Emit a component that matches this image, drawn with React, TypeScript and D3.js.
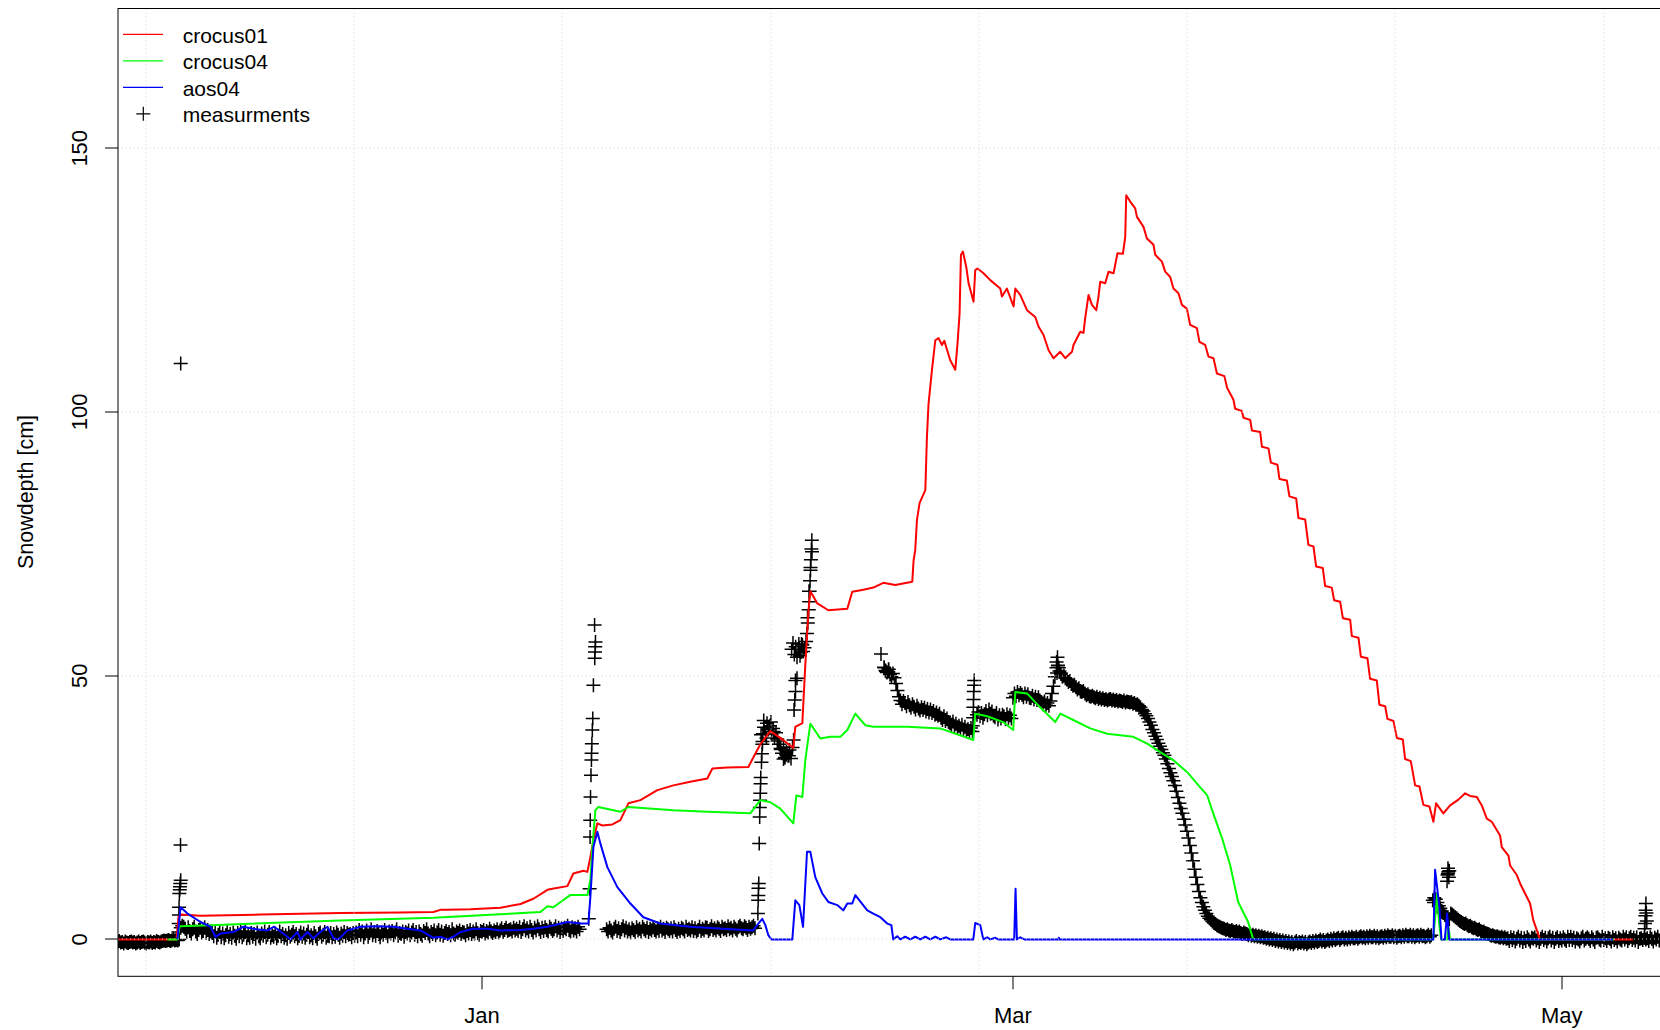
import * as d3 from "d3";
import { useMemo } from "react";

// time is given in days counted from 2017-01-01 00:00 UTC
const dayZero = Date.UTC(2017, 0, 1);

const crocus01: [number, number][] = [
  [-41, 0], [-33.97, 0], [-33.74, 4.3], [-33.52, 4.7], [-31.3, 4.5], [-24.63, 4.7],
  [-15.74, 5.0], [-9.08, 5.1], [-5.41, 5.2], [-4.63, 5.6], [-3.86, 5.6], [-1.3, 5.7],
  [2.03, 6.0], [4.26, 6.7], [5.7, 7.7], [7.26, 9.4], [7.81, 9.6], [9.48, 10.1],
  [10.14, 12.5], [11.26, 13.0], [11.7, 12.8], [12.03, 15.6], [12.37, 18.8], [12.81, 22.0],
  [13.37, 21.6], [14.48, 21.8], [15.37, 22.6], [16.26, 25.8], [17.59, 26.4], [19.48, 28.3],
  [21.26, 29.2], [23.14, 29.9], [25.03, 30.5], [25.59, 32.4], [27.26, 32.6], [29.59, 32.7],
  [30.92, 37.0], [32.03, 39.5], [33.14, 38.2], [34.59, 36.3], [34.81, 40.3], [35.59, 41.0],
  [35.92, 52], [36.26, 62], [36.48, 66], [37.26, 63.7], [38.48, 62.4], [40.59, 62.7],
  [41.14, 65.9], [42.37, 66.3], [43.48, 66.7], [44.59, 67.6], [45.92, 67.2], [47.81, 67.8],
  [47.96, 71.9], [48.14, 73.8], [48.33, 79.5], [48.62, 82.7], [49.26, 85.2], [49.44, 95.3],
  [49.62, 101.6], [50.0, 108], [50.37, 113.6], [50.73, 114], [51.11, 112.7], [51.37, 113.5],
  [52.03, 109.8], [52.59, 108], [52.84, 113], [53.07, 118.7], [53.22, 129.8], [53.44, 130.4],
  [53.81, 127.5], [54.07, 124.4], [54.62, 120.9], [54.81, 126.9], [55.07, 127.2], [55.73, 126.3],
  [56.48, 125], [57.59, 123.4], [57.78, 121.9], [58.33, 123.4], [59.07, 120], [59.26, 123.4],
  [59.81, 122.2], [60.56, 119.3], [61.48, 118], [61.84, 116.2], [62.4, 114.6], [62.96, 111.7],
  [63.51, 110.2], [64.26, 111.4], [64.81, 110.2], [65.56, 111.4], [65.73, 112.7], [66.48, 115.2],
  [66.84, 115], [67.03, 117.8], [67.4, 122.2], [67.78, 120.3], [68.26, 119.3], [68.51, 121.9],
  [68.7, 124.7], [69.26, 124.4], [69.62, 126.6], [70.18, 126.3], [70.62, 130.1], [71.22, 130],
  [71.48, 133.2], [71.59, 141.1], [72.03, 139.9], [72.59, 138.6], [72.78, 137], [73.51, 135.1],
  [73.89, 132.9], [74.62, 131.7], [74.81, 129.8], [75.56, 128.5], [75.92, 126.6], [76.48, 125.6],
  [76.84, 123.4], [77.4, 122.5], [77.78, 120.3], [78.33, 119.6], [78.7, 116.5], [79.44, 115.9],
  [79.73, 113.3], [80.37, 112.7], [80.73, 110.5], [81.29, 110.2], [81.67, 107.3], [82.5, 106.8],
  [82.8, 104.6], [83.51, 102.3], [83.7, 100.6], [84.44, 100.2], [84.62, 98.9], [85.37, 98.5],
  [85.56, 96.5], [86.48, 96.2], [86.67, 93.4], [87.4, 93.1], [87.67, 90.4], [88.4, 90.0],
  [88.62, 87.3], [89.44, 87.0], [89.73, 84.0], [90.48, 83.6], [90.73, 79.9], [91.48, 79.6],
  [91.84, 74.8], [92.4, 74.5], [92.7, 70.7], [93.44, 70.4], [93.7, 67.0], [94.44, 66.7],
  [94.7, 64.3], [95.37, 64.0], [95.67, 60.9], [96.48, 60.6], [96.67, 57.5], [97.4, 57.2],
  [97.67, 53.6], [98.4, 53.3], [98.7, 49.4], [99.44, 49.1], [99.73, 44.5], [100.37, 44.2],
  [100.62, 41.8], [101.29, 41.4], [101.67, 38.2], [102.33, 37.9], [102.59, 34.2], [103.22, 33.8],
  [103.7, 29.2], [104.18, 29.0], [104.62, 25.5], [105.29, 25.2], [105.73, 22.3], [106.03, 25.8],
  [106.84, 23.9], [107.59, 25.4], [108.51, 26.5], [109.26, 27.7], [109.81, 27.2], [110.56, 27.0],
  [111.11, 25.4], [111.67, 22.9], [112.22, 22.3], [113.14, 19.7], [113.33, 17.5], [114.07, 15.9],
  [114.26, 14.0], [115.0, 12.2], [115.37, 10.6], [115.92, 8.7], [116.48, 6.8], [116.84, 3.6],
  [117.59, 0], [127.9, 0]
];

const crocus04: [number, number][] = [
  [-34.97, 0], [-33.86, 0], [-33.63, 2.5], [-30.19, 2.7], [-15.74, 3.6], [-5.41, 4.1],
  [3.48, 4.9], [6.48, 5.2], [7.26, 6.3], [7.92, 6.1], [9.48, 8.0], [9.81, 8.4],
  [11.7, 8.4], [12.03, 11.2], [12.26, 17.5], [12.59, 24.5], [12.92, 25.1], [15.37, 24.2],
  [16.26, 25.1], [21.26, 24.5], [25.03, 24.2], [29.81, 23.9], [30.92, 26.4], [32.03, 26.0],
  [33.14, 24.8], [34.59, 22.0], [34.92, 27.3], [35.59, 27.0], [35.92, 34.0], [36.48, 40.9],
  [37.59, 38.1], [38.7, 38.4], [39.81, 38.4], [40.59, 39.7], [41.48, 42.8], [42.59, 40.6],
  [43.48, 40.3], [47.26, 40.3], [50.92, 40.0], [54.59, 37.8], [54.81, 42.8], [56.14, 42.3],
  [57.92, 41.2], [59.03, 39.7], [59.26, 46.9], [60.59, 46.6], [62.03, 44.0], [63.7, 41.2],
  [64.26, 42.8], [65.7, 41.6], [67.59, 40.0], [69.48, 39.0], [72.37, 38.4], [73.92, 37.1],
  [75.37, 35.5], [76.81, 34.0], [78.37, 31.7], [79.48, 29.5], [80.59, 27.3], [81.26, 23.9],
  [82.26, 19.1], [83.14, 14.1], [84.03, 7.1], [85.14, 3.3], [85.7, 0], [105.7, 0],
  [105.92, 4], [106.14, 8.7], [106.37, 3], [106.59, 0], [107.26, 0], [107.4, 2.4],
  [107.59, 0], [125.8, 0]
];

const aos04: [number, number][] = [
  [-33.86, 0], [-33.52, 6.1], [-32.74, 4.9], [-31.3, 3.3], [-30.19, 2.4], [-29.63, 0.5],
  [-29.08, 1.1], [-27.63, 1.4], [-26.52, 2.4], [-25.41, 2.0], [-23.86, 1.7], [-23.12, 2.4],
  [-21.63, 0.5], [-21.3, 0], [-20.52, 1.4], [-20.19, 0], [-19.41, 1.4], [-18.74, 0.2],
  [-17.97, 1.4], [-17.19, 2.4], [-16.52, 0.2], [-15.97, 0], [-14.97, 1.7], [-13.52, 2.4],
  [-11.63, 2.5], [-9.86, 2.4], [-8.3, 2.0], [-6.86, 1.7], [-5.41, 0.3], [-4.63, 0.5],
  [-3.86, 0], [-3.19, 0.5], [-2.41, 1.4], [-0.97, 2.0], [0.59, 2.0], [2.03, 1.7],
  [4.26, 1.8], [5.7, 2.0], [7.26, 2.4], [9.48, 3.3], [10.92, 3.0], [11.81, 3.0],
  [12.03, 8.0], [12.37, 17.5], [12.81, 20.4], [13.14, 18.2], [13.92, 13.7], [15.03, 9.9],
  [16.48, 6.8], [17.92, 4.2], [19.81, 3.0], [23.14, 2.4], [26.81, 2.0], [30.14, 1.7],
  [30.7, 3.0], [31.14, 3.9], [31.48, 2.7], [31.81, 0.8], [32.14, 0], [34.48, 0],
  [34.81, 7.4], [35.26, 6.5], [35.67, 2.4], [36.11, 16.6], [36.48, 16.6], [37.03, 11.8],
  [37.81, 8.7], [38.48, 7.1], [39.48, 6.5], [40.14, 5.5], [40.59, 6.8], [41.14, 6.8],
  [41.48, 8.4], [42.81, 5.5], [43.48, 4.9], [44.26, 4.2], [45.03, 3.0], [45.48, 2.7],
  [45.7, 0], [46.14, 0.6], [46.48, 0], [47.03, 0.5], [47.59, 0], [48.14, 0.5],
  [48.7, 0], [49.26, 0.5], [49.81, 0], [50.37, 0.5], [50.92, 0], [51.59, 0.4],
  [52.03, 0], [54.59, 0], [54.81, 3.1], [55.37, 2.7], [55.7, 0], [56.14, 0.4],
  [56.48, 0], [57.03, 0.3], [57.37, 0], [59.14, 0], [59.29, 9.6], [59.44, 0],
  [59.81, 0.4], [60.26, 0], [64.03, 0], [64.1, 0.3], [64.2, 0], [105.73, 0],
  [105.92, 13.2], [106.4, 6.1], [106.63, 0], [107.0, 0], [107.26, 4.9], [107.48, 0],
  [125.7, 0]
];

// snow depth readings, one row per day from day -41 on, every 4 hours (null = no reading)
const measStartDay = -41;
const measurements: (number | null)[][] = [
  [-0.6, -0.4, -0.7, -0.5, -0.3, -0.6],
  [-0.5, -0.8, -0.4, -0.6, -0.7, -0.5],
  [-0.4, -0.6, -0.5, -0.8, -0.6, -0.4],
  [-0.7, -0.5, -0.4, -0.6, -0.8, -0.5],
  [-0.6, -0.4, -0.7, -0.5, -0.6, -0.3],
  [-0.5, -0.6, -0.4, -0.3, -0.2, -0.3],
  [-0.2, -0.1, -0.3, -0.2, 0.0, -0.2],
  [-0.1, -0.2, 0.0, 2.2, 2.6, 2.4],
  [2.0, 1.4, 2.3, 1.6, 1.1, 1.9],
  [2.4, 1.5, 1.0, 1.8, 2.2, 1.3],
  [1.6, 2.3, 1.2, 1.8, 1.0, 1.5],
  [1.2, 0.6, 1.5, 0.3, 0.9, 1.4],
  [0.4, 1.1, 0.2, 0.8, 1.5, 0.5],
  [1.0, 0.3, 1.3, 0.7, 0.1, 1.2],
  [0.6, 1.4, 0.4, 0.9, 1.6, 0.2],
  [0.8, 0.3, 1.2, 0.5, 1.0, 0.1],
  [1.3, 0.6, 0.2, 1.1, 0.7, 1.5],
  [0.4, 0.9, 1.4, 0.3, 0.8, 0.5],
  [1.1, 0.2, 0.7, 1.5, 0.6, 1.0],
  [0.3, 0.8, 0.1, 1.2, 0.5, 0.9],
  [1.4, 0.6, 1.0, 0.2, 0.7, 1.3],
  [0.5, 1.1, 0.3, 0.9, 1.5, 0.4],
  [0.8, 0.2, 1.2, 0.6, 0.1, 1.0],
  [1.3, 0.5, 0.9, 1.4, 0.3, 0.7],
  [0.6, 1.2, 0.4, 1.0, 0.5, 1.3],
  [0.9, 0.3, 1.1, 0.7, 1.4, 0.6],
  [1.2, 0.9, 1.0, 0.4, 1.2, 0.7],
  [1.3, 0.6, 1.8, 0.9, 1.5, 0.4],
  [1.1, 1.7, 0.5, 1.2, 1.9, 0.8],
  [1.4, 0.7, 1.6, 1.0, 0.4, 1.3],
  [0.9, 1.8, 1.2, 0.6, 1.5, 1.1],
  [1.6, 0.8, 1.3, 1.9, 0.7, 1.2],
  [1.0, 1.5, 0.5, 1.4, 1.1, 1.7],
  [0.8, 1.3, 1.8, 0.9, 1.4, 0.6],
  [1.5, 1.0, 0.7, 1.6, 1.2, 1.9],
  [1.1, 0.6, 1.4, 1.0, 1.7, 0.8],
  [1.3, 1.8, 0.9, 1.5, 0.7, 1.2],
  [1.6, 1.0, 1.4, 0.8, 1.9, 1.1],
  [0.9, 1.5, 1.2, 1.7, 1.0, 1.4],
  [1.3, 0.8, 1.6, 1.1, 1.8, 1.0],
  [1.5, 1.1, 1.9, 1.2, 0.9, 1.6],
  [1.4, 1.8, 1.1, 1.6, 1.3, 2.0],
  [1.5, 1.2, 1.7, 1.4, 1.9, 1.3],
  [1.7, 2.1, 1.4, 1.8, 2.2, 1.6],
  [1.8, 1.9, 1.5, 2.2, 1.7, 2.0],
  [1.6, 2.3, 1.4, 1.9, 2.5, 1.7],
  [2.1, 1.5, 2.4, 1.8, 1.3, 2.2],
  [1.7, 2.5, 1.9, 1.4, 2.2, 1.6],
  [2.3, 1.8, 1.5, 2.4, 2.0, 1.6],
  [1.9, 2.5, 1.7, 2.2, 1.4, 2.1],
  [1.6, 2.2, 1.9, 2.6, 1.8, 1.5],
  [2.3, 1.7, 2.1, 1.5, 2.4, 1.9],
  [null, null, null, null, null, null],
  [null, null, null, null, null, null],
  [null, null, null, null, null, 1.9],
  [1.5, 2.2, 1.7, 1.3, 2.0, 2.4],
  [1.6, 2.1, 1.4, 1.9, 2.5, 1.7],
  [2.2, 1.5, 1.9, 1.3, 2.1, 1.8],
  [1.4, 2.3, 1.7, 2.0, 1.5, 2.4],
  [1.9, 1.6, 2.2, 1.4, 2.0, 1.7],
  [2.3, 1.8, 1.5, 2.1, 1.6, 2.4],
  [1.7, 2.0, 1.4, 2.2, 1.9, 1.6],
  [2.1, 1.5, 2.3, 1.8, 1.4, 2.0],
  [1.6, 2.2, 1.9, 1.5, 2.4, 1.8],
  [2.0, 1.7, 2.3, 1.6, 2.1, 1.5],
  [1.8, 2.4, 1.6, 2.0, 1.7, 2.3],
  [2.2, 1.6, 1.9, 2.5, 1.8, 2.1],
  [1.7, 2.3, 2.0, 1.6, 2.4, 1.9],
  [2.1, 1.8, 2.5, 1.9, 2.2, 1.7],
  [2.4, 2.0, 1.7, 2.3, 2.6, 2.1],
  [1.9, 2.5, 2.2, 1.8, 2.4, 2.0],
  [2.3, 2.6, 2.1, null, null, null],
  [38.8, 37.5, 40.2, 39.0, 41.0, 39.8],
  [40.5, 38.9, 40.0, 38.2, 39.2, 37.6],
  [37.0, 36.2, 35.3, 36.5, 34.5, 35.6],
  [34.8, 35.9, 34.3, 36.4, 43.5, 47.0],
  [49.5, 55.0, 53.8, 56.0, 54.6, 55.3],
  [56.5, 61.0, 66.0, 70.5, 73.5, null],
  [null, null, null, null, null, null],
  [null, null, null, null, null, null],
  [null, null, null, null, null, null],
  [null, null, null, null, null, null],
  [null, null, null, null, null, null],
  [null, null, null, null, null, null],
  [null, null, null, null, null, null],
  [null, null, 54.1, null, 51.6, 51.0],
  [50.6, 51.2, 50.2, 49.8, 50.4, 49.6],
  [48.5, 47.2, 46.0, 45.3, 44.6, 45.2],
  [44.8, 44.2, 45.0, 44.4, 43.9, 44.6],
  [44.1, 43.6, 44.3, 43.8, 43.4, 44.0],
  [43.5, 43.9, 43.2, 43.7, 43.0, 43.6],
  [42.9, 43.3, 42.6, 43.0, 42.4, 42.8],
  [42.0, 41.6, 42.3, 41.4, 41.9, 41.2],
  [41.0, 40.6, 41.3, 40.4, 40.9, 40.2],
  [40.5, 40.0, 40.7, 39.8, 40.3, 39.6],
  [39.9, 39.5, 40.1, 39.4, null, null],
  [42.6, 43.1, 42.3, 42.9, 42.0, 42.7],
  [43.3, 42.5, 43.6, 42.8, 43.2, 42.4],
  [42.1, 42.9, 41.7, 42.5, 41.9, 42.6],
  [42.3, 41.8, 42.7, 42.0, 42.5, 41.9],
  [45.8, 46.6, 46.1, 46.9, 46.3, 46.7],
  [46.4, 45.9, 46.6, 46.0, 46.5, 45.8],
  [45.7, 46.2, 45.5, 46.0, 45.4, 45.9],
  [45.3, 45.0, 44.6, 45.1, 44.4, 44.8],
  [44.3, 45.2, 46.6, 48.0, 49.8, 51.5],
  [51.9, 50.9, 50.3, 49.8, 50.0, 49.5],
  [49.3, 48.8, 49.0, 48.4, 48.1, 48.3],
  [47.8, 47.4, 47.6, 47.0, 46.9, 47.1],
  [46.6, 46.3, 46.5, 46.1, 46.0, 46.2],
  [45.9, 45.7, 46.0, 45.6, 45.8, 45.5],
  [45.7, 45.4, 45.6, 45.3, 45.5, 45.6],
  [45.3, 45.5, 45.2, 45.4, 45.1, 45.3],
  [45.2, 45.0, 45.3, 44.9, 45.1, 45.0],
  [44.9, 45.0, 44.7, 44.8, 44.5, 44.6],
  [44.3, 44.0, 43.6, 43.3, 42.8, 42.4],
  [41.9, 41.2, 40.6, 39.8, 39.2, 38.5],
  [37.9, 37.2, 36.6, 36.0, 35.4, 34.9],
  [34.2, 33.3, 32.4, 31.6, 30.9, 30.1],
  [29.2, 28.1, 26.9, 25.8, 24.8, 23.9],
  [22.8, 21.7, 20.5, 19.2, 17.8, 16.4],
  [14.9, 13.3, 11.8, 10.4, 9.1, 7.9],
  [7.0, 6.2, 5.5, 4.9, 4.4, 4.0],
  [3.7, 3.4, 3.1, 2.9, 2.7, 2.5],
  [2.4, 2.2, 2.1, 2.0, 1.8, 1.9],
  [1.7, 1.6, 1.8, 1.5, 1.4, 1.6],
  [1.3, 1.5, 1.2, 1.0, 1.3, 1.1],
  [1.0, 0.8, 1.1, 0.7, 0.9, 0.6],
  [0.8, 0.5, 0.7, 0.4, 0.6, 0.3],
  [0.4, 0.1, 0.3, 0.0, 0.2, -0.1],
  [0.1, -0.3, 0.0, -0.4, -0.1, -0.5],
  [-0.2, -0.6, -0.3, -0.7, -0.4, -0.8],
  [-0.5, -0.9, -0.6, -0.3, -0.8, -0.5],
  [-0.7, -0.4, -0.8, -0.5, -0.9, -0.6],
  [-0.4, -0.7, -0.3, -0.6, -0.2, -0.5],
  [-0.3, 0.0, -0.4, -0.1, -0.5, -0.2],
  [0.0, -0.3, 0.1, -0.2, 0.2, -0.1],
  [0.1, 0.3, -0.1, 0.2, 0.4, 0.0],
  [0.3, 0.0, 0.4, 0.1, 0.5, 0.2],
  [0.2, 0.5, 0.1, 0.4, 0.6, 0.3],
  [0.5, 0.2, 0.6, 0.3, 0.7, 0.4],
  [0.4, 0.7, 0.3, 0.6, 0.2, 0.5],
  [0.6, 0.3, 0.7, 0.4, 0.8, 0.5],
  [0.5, 0.8, 0.4, 0.7, 0.3, 0.6],
  [0.7, 0.4, 0.8, 0.5, 0.9, 0.6],
  [0.6, 0.9, 0.5, 0.8, 0.4, 0.7],
  [0.8, 0.5, 0.9, 0.6, 0.7, 0.4],
  [0.6, 0.9, 0.5, 0.8, 7.4, 7.9],
  [7.6, 7.0, 6.4, 5.9, 5.4, 5.0],
  [4.6, 4.3, 4.0, 3.8, 4.9, 4.7],
  [4.5, 4.2, 4.0, 3.7, 3.5, 3.3],
  [3.1, 2.9, 3.0, 2.7, 2.5, 2.6],
  [2.3, 2.1, 2.2, 1.9, 1.8, 1.9],
  [1.6, 1.4, 1.5, 1.2, 1.1, 1.0],
  [0.9, 0.7, 0.8, 0.6, 0.5, 0.6],
  [0.4, 0.3, 0.5, 0.2, 0.4, 0.1],
  [0.2, -0.3, 0.4, -0.1, 0.3, -0.4],
  [0.1, 0.5, -0.2, 0.3, -0.5, 0.2],
  [-0.3, 0.4, 0.0, -0.4, 0.3, 0.1],
  [0.4, -0.2, 0.2, -0.5, 0.1, 0.5],
  [-0.1, 0.3, -0.4, 0.2, 0.5, -0.2],
  [0.3, -0.5, 0.1, 0.4, -0.3, 0.2],
  [-0.2, 0.4, 0.0, -0.3, 0.5, -0.1],
  [0.5, -0.1, 0.3, -0.4, 0.2, 0.0],
  [-0.4, 0.2, 0.5, -0.2, 0.1, 0.4],
  [0.1, -0.3, 0.4, 0.0, -0.5, 0.3],
  [0.4, 0.0, -0.2, 0.5, -0.1, 0.2],
  [-0.3, 0.3, 0.1, -0.4, 0.4, -0.1],
  [0.2, -0.4, 0.3, 0.0, -0.2, 0.5],
  [0.0, 0.4, -0.3, 0.2, 0.5, -0.1],
  [0.3, -0.2, 0.4, -0.5, 0.1, 0.2],
  [-0.1, 0.3, 0.0, 0.2, -0.3, 0.4],
  [0.1, -0.4, 0.3, 0.0, 0.5, -0.2],
  [0.4, -0.1, 0.2, -0.3, 0.1, 0.3],
  [-0.2, 0.4, 0.0, 0.3, -0.4, 0.1],
  [0.2, -0.1, 0.4, 0.0, 0.3, -0.2]
];

// single readings that stick out of the regular record
const measurementOutliers: [number, number][] = [
  [-33.75, 1.4], [-33.72, 3.0], [-33.7, 4.6], [-33.68, 6.1], [-33.65, 8.7], [-33.6, 9.4],
  [-33.58, 10.0], [-33.55, 10.6], [-33.5, 11.2], [-33.52, 17.9], [-33.5, 109.2],
  [11.85, 3.9], [11.95, 9.6], [12.0, 19.4], [12.02, 22.6], [12.05, 27.0], [12.1, 31.1],
  [12.15, 34.0], [12.17, 35.3], [12.2, 37.1], [12.25, 39.7], [12.3, 41.9], [12.37, 48.2],
  [12.52, 53.3], [12.55, 54.5], [12.57, 55.5], [12.6, 56.4], [12.5, 59.6],
  [30.65, 4.9], [30.68, 7.4], [30.7, 8.3], [30.72, 9.7], [30.75, 10.6], [30.8, 18.2],
  [30.85, 23.2], [30.87, 25.0], [30.9, 26.4], [30.92, 27.7], [30.95, 29.5], [30.97, 30.7],
  [31.05, 33.6], [31.1, 35.2], [31.15, 37.0], [31.2, 39.0],
  [31.3, 41.5], [31.6, 38.2], [32.1, 41.2], [32.4, 39.4], [32.8, 38.0], [33.2, 36.0],
  [33.5, 34.2], [33.8, 35.0], [34.1, 34.8],
  [34.4, 55.0], [34.55, 56.2], [34.7, 54.0], [34.85, 55.5], [35.0, 53.5], [35.2, 56.0],
  [35.45, 54.5], [35.6, 55.8], [34.62, 37.8], [34.68, 43.5], [34.75, 45.4], [34.82, 49.1],
  [36.1, 58], [36.2, 60], [36.3, 62.5], [36.35, 64], [36.4, 66], [36.45, 68],
  [36.5, 70], [36.55, 72], [36.6, 74], [36.65, 75.7],
  [44.7, 51.5], [44.9, 50.8], [45.2, 51.2],
  [54.55, 40.5], [54.58, 42], [54.6, 44], [54.62, 45.5], [54.65, 47], [54.68, 48.2], [54.7, 49.1],
  [63.85, 52.6], [63.95, 53.5], [64.0, 52.0], [64.1, 51.5], [63.9, 50.5],
  [105.75, 7.4], [105.8, 7.0], [107.25, 11.0], [107.3, 12.2], [107.35, 13.5], [107.4, 12.8],
  [107.45, 11.8], [107.5, 13.0], [107.35, 12.5],
  [129.2, 2.0], [129.25, 3.0], [129.3, 4.5], [129.32, 5.5], [129.35, 6.8], [129.4, 5.0], [129.45, 3.5]
];

const seriesNames = ["crocus01", "crocus04", "aos04"];
const seriesColors = ["#ff0000", "#00ff00", "#0000ff"];
const measurementLabel = "measurments";

const monthTickDays = [0, 59, 120];
const monthTickLabels = ["Jan", "Mar", "May"];
const yTicks = [0, 50, 100, 150];
const yLabel = "Snowdepth [cm]";

const width = 1660;
const height = 1030;
const plotLeft = 118;
const plotTop = 8.5;
const plotBottom = 976.3;
const plotRight = 1680;
const xDomainDays: [number, number] = [-40.47, 133.14];
const yDomain: [number, number] = [-7.0, 176.5];
const fontFamily = "'Liberation Sans', Arial, Helvetica, sans-serif";
const crossHalf = 7;

const dayToDate = (d: number) => new Date(dayZero + d * 864e5);

function App() {
  const x = useMemo(
    () =>
      d3
        .scaleUtc()
        .domain(xDomainDays.map(dayToDate))
        .range([plotLeft, plotRight]),
    []
  );
  const y = useMemo(
    () => d3.scaleLinear().domain(yDomain).range([plotBottom, plotTop]),
    []
  );

  const line = d3
    .line<[number, number]>()
    .x((d) => x(dayToDate(d[0])))
    .y((d) => y(d[1]));

  const crossPath = useMemo(() => {
    const pts: [number, number][] = [];
    measurements.forEach((row, day) => {
      row.forEach((v, k) => {
        if (v !== null) {
          pts.push([measStartDay + day + k / row.length, v]);
        }
      });
    });
    measurementOutliers.forEach((p) => pts.push(p));
    return pts
      .map(([d, v]) => {
        const px = x(dayToDate(d));
        const py = y(v);
        return `M${px - crossHalf},${py}h${crossHalf * 2}M${px},${py - crossHalf}v${crossHalf * 2}`;
      })
      .join("");
  }, [x, y]);

  // R's grid() puts the vertical lines on the pretty ticks of the seconds axis
  const gridStepMs = 2e9;
  const [d0, d1] = x.domain();
  const gridTimes = d3.range(
    Math.ceil(+d0 / gridStepMs) * gridStepMs,
    +d1,
    gridStepMs
  );

  const series = [crocus01, crocus04, aos04];
  const legendRowY = (i: number) => 34.3 + i * 26.5;

  return (
    <svg
      width={width}
      height={height}
      style={{ position: "absolute", left: 0, top: 0, background: "#fff" }}
      fontFamily={fontFamily}
    >
      <defs>
        <clipPath id="plot-clip">
          <rect
            x={plotLeft}
            y={plotTop}
            width={plotRight - plotLeft}
            height={plotBottom - plotTop}
          />
        </clipPath>
      </defs>
      <rect width={width} height={height} fill="#fff" />
      <g clipPath="url(#plot-clip)">
        <path d={crossPath} stroke="#000" strokeWidth={1.5} fill="none" />
        {series.map((s, i) => (
          <path
            key={seriesNames[i]}
            d={line(s) ?? ""}
            stroke={seriesColors[i]}
            strokeWidth={2}
            fill="none"
            strokeLinejoin="round"
          />
        ))}
        {gridTimes.map((t) => (
          <line
            key={`gx-${t}`}
            x1={Math.round(x(new Date(t)))}
            x2={Math.round(x(new Date(t)))}
            y1={plotTop}
            y2={plotBottom}
            stroke="#d3d3d3"
            strokeDasharray="1,3"
          />
        ))}
        {yTicks.map((v) => (
          <line
            key={`gy-${v}`}
            x1={plotLeft}
            x2={plotRight}
            y1={Math.round(y(v))}
            y2={Math.round(y(v))}
            stroke="#d3d3d3"
            strokeDasharray="1,3"
          />
        ))}
      </g>
      <rect
        x={plotLeft}
        y={plotTop}
        width={plotRight - plotLeft}
        height={plotBottom - plotTop}
        fill="none"
        stroke="#000"
        strokeWidth={1}
      />
      {yTicks.map((v) => (
        <g key={`yt-${v}`}>
          <line
            x1={plotLeft - 13}
            x2={plotLeft}
            y1={Math.round(y(v))}
            y2={Math.round(y(v))}
            stroke="#000"
          />
          <text
            transform={`translate(87, ${y(v)}) rotate(-90)`}
            textAnchor="middle"
            fontSize={22}
            fill="#000"
          >
            {v}
          </text>
        </g>
      ))}
      {monthTickDays.map((d, i) => (
        <g key={`xt-${d}`}>
          <line
            x1={Math.round(x(dayToDate(d)))}
            x2={Math.round(x(dayToDate(d)))}
            y1={plotBottom}
            y2={plotBottom + 13}
            stroke="#000"
          />
          <text
            x={x(dayToDate(d))}
            y={1023}
            textAnchor="middle"
            fontSize={22}
            fill="#000"
          >
            {monthTickLabels[i]}
          </text>
        </g>
      ))}
      <text
        transform="translate(33, 492) rotate(-90)"
        textAnchor="middle"
        fontSize={21.5}
        fill="#000"
      >
        {yLabel}
      </text>
      <g>
        {seriesNames.map((name, i) => (
          <g key={`lg-${name}`}>
            <line
              x1={123}
              x2={163}
              y1={legendRowY(i)}
              y2={legendRowY(i)}
              stroke={seriesColors[i]}
              strokeWidth={1.2}
            />
            <text x={182.7} y={legendRowY(i) + 8.5} fontSize={21} fill="#000">
              {name}
            </text>
          </g>
        ))}
        <path
          d={`M${143.3 - crossHalf},${legendRowY(3)}h${crossHalf * 2}M143.3,${
            legendRowY(3) - crossHalf
          }v${crossHalf * 2}`}
          stroke="#000"
          strokeWidth={1.2}
        />
        <text x={182.7} y={legendRowY(3) + 8.5} fontSize={21} fill="#000">
          {measurementLabel}
        </text>
      </g>
    </svg>
  );
}

export default App;
